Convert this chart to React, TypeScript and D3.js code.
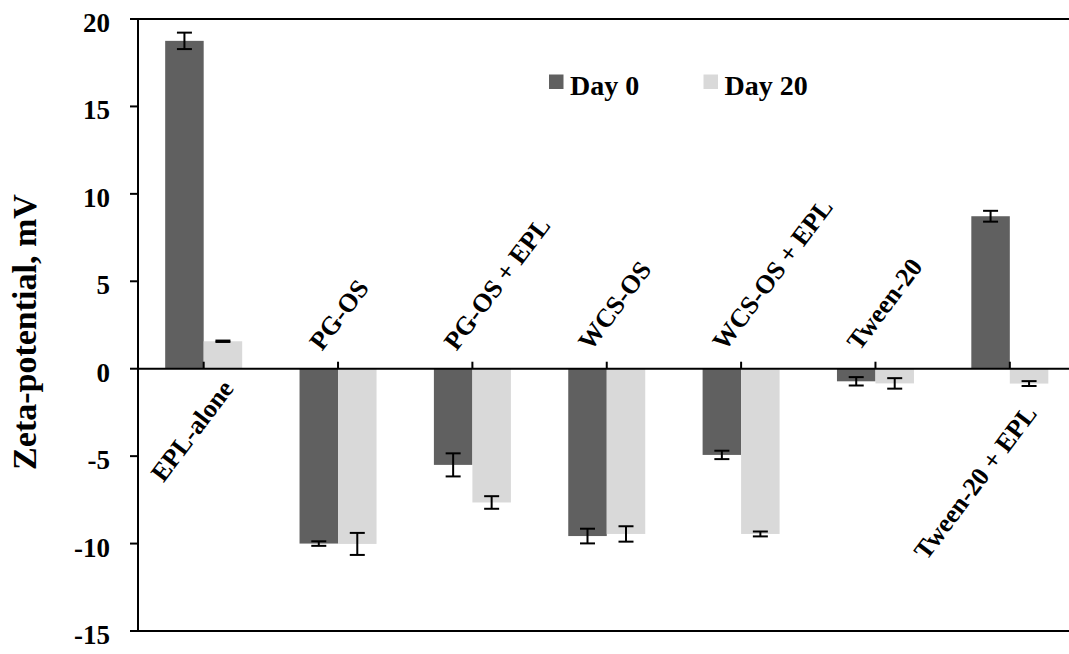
import React from "react";
import * as d3 from "d3";

const categories = ["EPL-alone", "PG-OS", "PG-OS + EPL", "WCS-OS", "WCS-OS + EPL", "Tween-20", "Tween-20 + EPL"];
const day0 = [18.75, -10.0, -5.5, -9.57, -4.93, -0.72, 8.72];
const day0Err = [0.47, 0.13, 0.66, 0.42, 0.24, 0.24, 0.31];
const day20 = [1.57, -10.02, -7.65, -9.45, -9.45, -0.84, -0.85];
const day20Err = [0.04, 0.63, 0.36, 0.44, 0.14, 0.3, 0.14];
const yTicks = [20, 15, 10, 5, 0, -5, -10, -15];
const seriesNames = ["Day 0", "Day 20"];

// layout tweaks for labels placed below the axis (end anchor offsets)
const belowLabelOffset: Record<string, [number, number]> = {
  "EPL-alone": [31, 20],
  "Tween-20 + EPL": [28, 45],
};

const W = 1069;
const H = 654;
const FONT = "'Liberation Serif', 'Times New Roman', serif";
const C0 = "#606060";
const C1 = "#d9d9d9";
const ROT = -53;

export default function App() {
  const left = 138;
  const x = d3.scaleBand<string>().domain(categories).range([136.5, 1077]).paddingInner(0).paddingOuter(0);
  const y = d3.scaleLinear().domain([-15, 20]).range([631, 19]);
  const barW = 38.5;
  const capHalf = 7.5;
  const y0 = y(0);
  const series = [
    { name: seriesNames[0], vals: day0, errs: day0Err, color: C0, off: -barW },
    { name: seriesNames[1], vals: day20, errs: day20Err, color: C1, off: 0 },
  ];

  return (
    <svg width={W} height={H} style={{ position: "absolute", left: 0, top: 0, background: "#fff" }}>
      <rect x={0} y={0} width={W} height={H} fill="#fff" />
      {series.map((s, si) =>
        categories.map((c, i) => {
          const cx = (x(c) as number) + x.bandwidth() / 2;
          const v = s.vals[i];
          const yt = Math.min(y(v), y0);
          const h = Math.abs(y(v) - y0);
          return <rect key={`b${si}-${i}`} x={cx + s.off} y={yt} width={barW} height={h} fill={s.color} />;
        })
      )}
      {series.map((s, si) =>
        categories.map((c, i) => {
          const cx = (x(c) as number) + x.bandwidth() / 2 + s.off + barW / 2;
          const v = s.vals[i];
          const e = s.errs[i];
          const a = y(v + e);
          const b = y(v - e);
          return (
            <g key={`e${si}-${i}`} stroke="#000" strokeWidth={2}>
              <line x1={cx} x2={cx} y1={a} y2={b} />
              <line x1={cx - capHalf} x2={cx + capHalf} y1={a} y2={a} />
              <line x1={cx - capHalf} x2={cx + capHalf} y1={b} y2={b} />
            </g>
          );
        })
      )}
      {/* plot borders */}
      <line x1={left} x2={W + 20} y1={y(20)} y2={y(20)} stroke="#000" strokeWidth={2} />
      <line x1={left} x2={W + 20} y1={y(-15)} y2={y(-15)} stroke="#000" strokeWidth={2} />
      <line x1={left} x2={left} y1={y(20) - 1} y2={y(-15) + 1} stroke="#000" strokeWidth={2} />
      <line x1={left} x2={W + 20} y1={y0} y2={y0} stroke="#000" strokeWidth={2} />
      {yTicks.map((t) => (
        <g key={`yt${t}`}>
          <line x1={left - 8} x2={left} y1={y(t)} y2={y(t)} stroke="#000" strokeWidth={2} />
          <text x={110} y={y(t) + 13} textAnchor="end" fontFamily={FONT} fontWeight="bold" fontSize={27} fill="#000">
            {t}
          </text>
        </g>
      ))}
      {categories.map((c, i) => {
        const cx = (x(c) as number) + x.bandwidth() / 2;
        const positive = day0[i] > 0;
        let tx: number, ty: number, anchor: string;
        if (positive) {
          const off = belowLabelOffset[c] || [30, 20];
          tx = cx + off[0];
          ty = y0 + off[1];
          anchor = "end";
        } else {
          tx = cx - 16;
          ty = y0 - 17;
          anchor = "start";
        }
        return (
          <g key={`xl${i}`}>
            <line x1={cx} x2={cx} y1={y0} y2={y0 - 7} stroke="#000" strokeWidth={2} />
            <text
              transform={`translate(${tx},${ty}) rotate(${ROT})`}
              textAnchor={anchor}
              fontFamily={FONT}
              fontWeight="bold"
              fontSize={26}
              fill="#000"
            >
              {c}
            </text>
          </g>
        );
      })}
      <text
        transform={`translate(36,332) rotate(-90)`}
        textAnchor="middle"
        fontFamily={FONT}
        fontWeight="bold"
        fontSize={34}
        fill="#000"
      >
        Zeta-potential, mV
      </text>
      {/* legend */}
      {series.map((s, si) => {
        const lx = si === 0 ? 549 : 703.5;
        return (
          <g key={`lg${si}`}>
            <rect x={lx} y={74.5} width={14.5} height={14.5} fill={s.color} />
            <text x={lx + 21} y={95} fontFamily={FONT} fontWeight="bold" fontSize={28} fill="#000">
              {s.name}
            </text>
          </g>
        );
      })}
    </svg>
  );
}
